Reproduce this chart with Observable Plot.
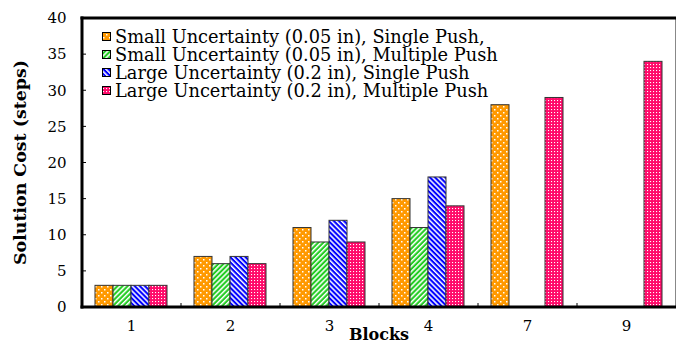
<!DOCTYPE html>
<html><head><meta charset="utf-8">
<script src="https://cdn.jsdelivr.net/npm/d3@7"></script>
<script src="https://cdn.jsdelivr.net/npm/@observablehq/plot@0.6"></script>
<style>body{margin:0;background:#fff} svg{display:block}</style>
</head><body><div id="chart"></div>
<script>
const blocks = ["1", "2", "3", "4", "7", "9"];
const series = [
  "Small Uncertainty (0.05 in), Single Push,",
  "Small Uncertainty (0.05 in), Multiple Push",
  "Large Uncertainty (0.2 in), Single Push",
  "Large Uncertainty (0.2 in), Multiple Push"
];
const smallSingle   = [3, 7, 11, 15, 28, null];
const smallMultiple = [3, 6, 9, 11, null, null];
const largeSingle   = [3, 7, 12, 18, null, null];
const largeMultiple = [3, 6, 9, 14, 29, 34];
const yTicks = [0, 5, 10, 15, 20, 25, 30, 35, 40];
const xLabel = "Blocks";
const yLabel = "Solution Cost (steps)";

const valuesBySeries = [smallSingle, smallMultiple, largeSingle, largeMultiple];
const rows = [];
valuesBySeries.forEach((vals, si) => vals.forEach((v, bi) => {
  if (v != null) rows.push({block: blocks[bi], series: series[si], value: v});
}));

const FONT = "'DejaVu Serif', 'Liberation Serif', serif";
const W = 677, H = 343, mL = 82, mR = 1, mT = 18, mB = 36;

const chart = Plot.plot({
  width: W, height: H, marginLeft: mL, marginRight: mR, marginTop: mT, marginBottom: mB,
  style: {fontFamily: FONT, fontSize: "15px", color: "#000", background: "#fff"},
  fx: {domain: blocks, paddingInner: 0.27, paddingOuter: 0.135, label: null, tickSize: 0, tickPadding: 13},
  x: {domain: series, axis: null, padding: 0},
  y: {domain: [0, 40], label: null, ticks: yTicks, tickSize: 0, tickPadding: 29, tickFormat: d => String(d)},
  color: {domain: series, range: series.map((_, i) => `url(#pat${i})`)},
  marks: [
    Plot.barY(rows, {fx: "block", x: "series", y: "value", fill: "series", stroke: "#333", strokeWidth: 1})
  ]
});
document.getElementById("chart").appendChild(chart);

const svg = d3.select(chart);
const defs = svg.insert("defs", ":first-child");
// orange dots
{
  const p = defs.append("pattern").attr("id", "pat0").attr("patternUnits", "userSpaceOnUse").attr("width", 6).attr("height", 6);
  p.append("rect").attr("width", 6).attr("height", 6).attr("fill", "#ff9900");
  p.append("rect").attr("x", 1).attr("y", 1).attr("width", 1.5).attr("height", 1.5).attr("fill", "#fff");
  p.append("rect").attr("x", 4).attr("y", 4).attr("width", 1.5).attr("height", 1.5).attr("fill", "#fff");
}
// green stripes /
{
  const p = defs.append("pattern").attr("id", "pat1").attr("patternUnits", "userSpaceOnUse").attr("width", 3.6).attr("height", 10).attr("patternTransform", "rotate(45)");
  p.append("rect").attr("width", 3.6).attr("height", 10).attr("fill", "#22cc22");
  p.append("rect").attr("width", 1.5).attr("height", 10).attr("fill", "#fff");
}
// blue stripes \
{
  const p = defs.append("pattern").attr("id", "pat2").attr("patternUnits", "userSpaceOnUse").attr("width", 3.6).attr("height", 10).attr("patternTransform", "rotate(-45)");
  p.append("rect").attr("width", 3.6).attr("height", 10).attr("fill", "#0000ff");
  p.append("rect").attr("width", 1.5).attr("height", 10).attr("fill", "#fff");
}
// pink dense dots
{
  const p = defs.append("pattern").attr("id", "pat3").attr("patternUnits", "userSpaceOnUse").attr("width", 3).attr("height", 3);
  p.append("rect").attr("width", 3).attr("height", 3).attr("fill", "#ff0a6a");
  p.append("rect").attr("x", 1).attr("y", 1).attr("width", 1.1).attr("height", 1.1).attr("fill", "#fff");
}

const ys = chart.scale("y");
const y = d3.scaleLinear(ys.domain, ys.range);
const fs = chart.scale("fx");
const band = d3.scaleBand(fs.domain, fs.range).paddingInner(fs.paddingInner).paddingOuter(fs.paddingOuter).align(fs.align ?? 0.5);

const g = svg.append("g").attr("text-anchor", "start");
const x0 = mL, x1 = W - mR, yTop = y(40), yBot = y(0);
// inward ticks left
yTicks.filter(t => t > 0 && t < 40).forEach(t => {
  g.append("line").attr("x1", x0).attr("x2", x0 + 4).attr("y1", y(t)).attr("y2", y(t)).attr("stroke", "#000").attr("stroke-width", 1);
});
// boundary ticks bottom
for (let i = 1; i < blocks.length; i++) {
  const bx = band(blocks[i]) - band.step() * band.paddingInner() / 2;
  g.append("line").attr("x1", bx).attr("x2", bx).attr("y1", yBot).attr("y2", yBot - 4).attr("stroke", "#000").attr("stroke-width", 1);
}
// frame
g.append("line").attr("x1", x1 - 0.5).attr("x2", x1 - 0.5).attr("y1", yTop).attr("y2", yBot).attr("stroke", "#888").attr("stroke-width", 1);
g.append("line").attr("x1", x0 - 1.5).attr("x2", x1).attr("y1", yTop).attr("y2", yTop).attr("stroke", "#000").attr("stroke-width", 3);
g.append("line").attr("x1", x0 - 1.5).attr("x2", x1).attr("y1", yBot).attr("y2", yBot).attr("stroke", "#000").attr("stroke-width", 3);
g.append("line").attr("x1", x0).attr("x2", x0).attr("y1", yTop - 1.5).attr("y2", yBot + 1.5).attr("stroke", "#000").attr("stroke-width", 3);

// axis labels
g.append("text").attr("x", (x0 + x1) / 2).attr("y", 340).attr("text-anchor", "middle")
  .attr("font-family", FONT).attr("font-weight", "bold").attr("font-size", 16).text(xLabel);
g.append("text").attr("transform", `translate(20,${(yTop + yBot) / 2}) rotate(-90)`).attr("text-anchor", "middle")
  .attr("dy", "0.35em").attr("font-family", FONT).attr("font-weight", "bold").attr("font-size", 17.4).text(yLabel);

// legend
const lg = g.append("g");
series.forEach((s, i) => {
  const cy = 37 + i * 18;
  lg.append("rect").attr("x", 102.5).attr("y", cy - 4.5).attr("width", 8).attr("height", 8)
    .attr("fill", `url(#pat${i})`).attr("stroke", "#000").attr("stroke-width", 1);
  lg.append("text").attr("x", 115).attr("y", cy).attr("dy", "0.35em").attr("text-anchor", "start")
    .attr("font-family", FONT).attr("font-size", 17.8).attr("fill", "#000").text(s);
});
</script></body></html>
